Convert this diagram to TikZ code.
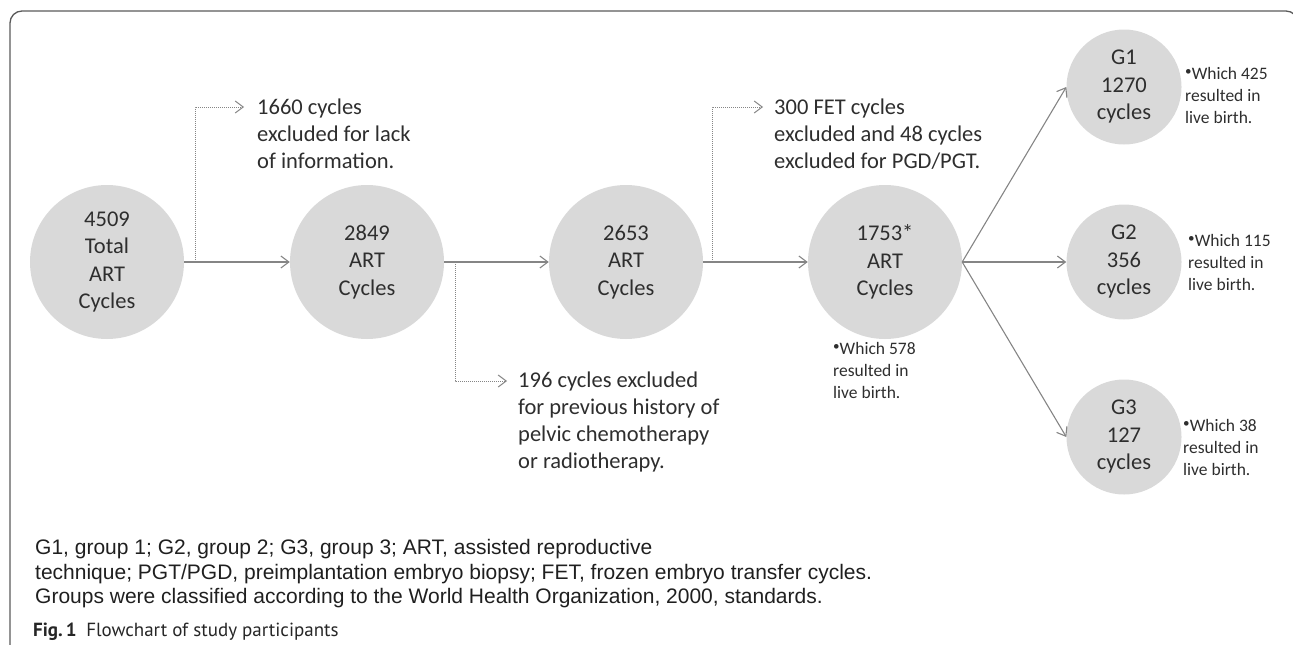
\documentclass[tikz,border=0pt]{standalone}
\usepackage{fontspec}
\setmainfont{Carlito}
\newfontfamily\notefont{Liberation Sans}
\newfontfamily\capfont{PT Sans}
\usetikzlibrary{arrows.meta}
\definecolor{circ}{HTML}{D9D9D9}
\definecolor{lin}{HTML}{858585}
\definecolor{txt}{HTML}{2E2E2E}
\definecolor{frame}{HTML}{5A5A5A}
\begin{document}
\begin{tikzpicture}[x=1pt,y=-1pt,
  bigc/.style={circle, fill=circ, minimum size=154pt, inner sep=0pt, align=center, text=txt, font=\fontsize{22.5}{27.5}\selectfont},
  smallc/.style={circle, fill=circ, minimum size=115pt, inner sep=0pt, align=center, text=txt, font=\fontsize{22.5}{27.5}\selectfont},
  arr/.style={draw=lin, line width=1.1pt, -{Straight Barb[length=8pt,width=12pt,line width=1.1pt]}},
  dotarr/.style={draw=lin, line width=0.9pt, dash pattern=on 1pt off 1pt, -{Straight Barb[length=8pt,width=12pt,line width=1pt]}},
  lbl/.style={anchor=west, align=left, inner sep=0pt, text=txt, font=\fontsize{22.5}{27}\selectfont},
  sml/.style={anchor=west, align=left, inner sep=0pt, text=txt, font=\fontsize{17.5}{22}\selectfont},
  note/.style={anchor=west, align=left, inner sep=0pt, text=black!88, font=\notefont\fontsize{21}{24.5}\selectfont}]
\useasboundingbox (0,0) rectangle (1293,645);
\newcommand{\bul}{\raisebox{0.45ex}{\scalebox{0.75}{•}}}
% frame
\draw[frame, line width=1.3pt, rounded corners=12pt] (10,660) -- (10,11) -- (1298,11) -- (1298,660);
% circles
\node[bigc] (c1) at (107,262) {4509\\Total\\ART\\Cycles};
\node[bigc] (c2) at (367,262) {2849\\ART\\Cycles};
\node[bigc] (c3) at (626,262) {2653\\ART\\Cycles};
\node[bigc] (c4) at (885,262) {1753*\\ART\\Cycles};
\node[smallc] (g1) at (1124,87) {G1\\1270\\cycles};
\node[smallc] (g2) at (1124,262) {G2\\356\\cycles};
\node[smallc] (g3) at (1124,437) {G3\\127\\cycles};
% labels
\node[lbl] (t1) at (257,134) {1660 cycles\\excluded for lack\\of information.};
\node[lbl] (t2) at (518,422) {196 cycles excluded\\for previous history of\\pelvic chemotherapy\\or radiotherapy.};
\node[lbl] (t3) at (774,134) {300 FET cycles\\excluded and 48 cycles\\excluded for PGD/PGT.};
\node[sml] (l4) at (833,370) {\bul Which 578\\resulted in\\live birth.};
\node[sml] (lg1) at (1185,95) {\bul Which 425\\resulted in\\live birth.};
\node[sml] (lg2) at (1188,262) {\bul Which 115\\resulted in\\live birth.};
\node[sml] (lg3) at (1183,447) {\bul Which 38\\resulted in\\live birth.};
% connectors
\draw[arr] (c1) -- (c2);
\draw[arr] (c2) -- (c3);
\draw[arr] (c3) -- (c4);
\coordinate (b1) at (195,262);
\coordinate (e1) at (244,107);
\coordinate (b2) at (455,262);
\coordinate (e2) at (507,381);
\coordinate (b3) at (712,262);
\coordinate (e3) at (763,107);
\draw[dotarr] (b1) |- (e1);
\draw[dotarr] (b2) |- (e2);
\draw[dotarr] (b3) |- (e3);
\draw[arr] (c4.east) -- (g1.west);
\draw[arr] (c4.east) -- (g2.west);
\draw[arr] (c4.east) -- (g3.west);
% footnote
\node[note] (fn) at (35,574) {G1, group 1; G2, group 2; G3, group 3; ART, assisted reproductive\\technique; PGT/PGD, preimplantation embryo biopsy; FET, frozen embryo transfer cycles.\\Groups were classified according to the World Health Organization, 2000, standards.};
\node[anchor=west, inner sep=0pt, text=black!85, font=\capfont\fontsize{19}{22}\selectfont] (cap) at (33,632) {\textbf{Fig.\,1}\enspace Flowchart of study participants};
\end{tikzpicture}
\end{document}
